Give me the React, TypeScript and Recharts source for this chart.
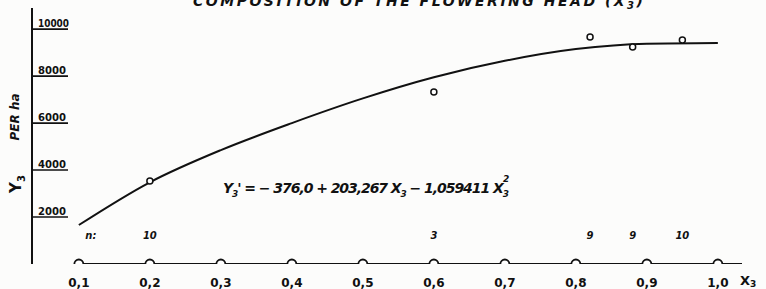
import { ComposedChart, Line, Scatter, XAxis, YAxis, Customized } from 'recharts'

// fitted curve at each tenth
const curveX = [0.1, 0.2, 0.3, 0.4, 0.5, 0.6, 0.7, 0.8, 0.9, 1.0]
const curveY = [1660, 3480, 4850, 6000, 7050, 7950, 8650, 9150, 9380, 9410]

// observed means and their counts (n)
const obsX = [0.2, 0.6, 0.82, 0.88, 0.95]
const obsY = [3530, 7320, 9670, 9240, 9540]
const obsN = ['10', '3', '9', '9', '10']

const xTicks = [0.1, 0.2, 0.3, 0.4, 0.5, 0.6, 0.7, 0.8, 0.9, 1.0]
const yTicks = [2000, 4000, 6000, 8000, 10000]
const xMin = 0.034
const xMax = 1.034
const countLevel = 1230

const curveData = curveX.map((x, i) => ({ x, y: curveY[i] }))
const obsData = obsX.map((x, i) => ({ x, y: obsY[i] }))
const countData = [{ x: 0.117, y: countLevel, n: 'n:' }, ...obsX.map((x, i) => ({ x, y: countLevel, n: obsN[i] }))]
const tickDots = xTicks.map(x => ({ x, y: 0 }))
const baseLine = [{ x: 0.1, y: 0 }, { x: xMax, y: 0 }]

const font = '"DejaVu Sans", sans-serif'

const YTick = (props: any) => {
  const { x, y, payload } = props
  return (
    <g>
      <line x1={x} y1={y} x2={x + 36} y2={y} stroke="#111" strokeWidth={1.6} />
      <text x={x + 6} y={y - 2} fontSize={10} fontWeight="bold" fontFamily={font} fill="#111"
        textLength={payload.value >= 10000 ? 31 : 28} lengthAdjust="spacingAndGlyphs">
        {payload.value}
      </text>
    </g>
  )
}

const Texts = () => (
  <g fontFamily={font} fill="#111" fontWeight="bold" fontStyle="italic">
    <text x={193} y={6} fontSize={14} textLength={450} lengthAdjust="spacing">
      COMPOSITION OF THE FLOWERING HEAD  (X<tspan fontSize={10} dy={3}>3</tspan><tspan dy={-3}>)</tspan>
    </text>
    <text x={223} y={193} fontSize={14} textLength={286} lengthAdjust="spacing">
      Y<tspan fontSize={9} dy={4}>3</tspan><tspan dy={-4}>' = −  376,0 +  203,267 X</tspan>
      <tspan fontSize={9} dy={4}>3</tspan><tspan dy={-4}> − 1,059411  X</tspan>
      <tspan fontSize={9} dy={4}>3</tspan>
    </text>
    <text x={503} y={182} fontSize={9}>2</text>
    <g transform="translate(19,117) rotate(-90)">
      <text x={0} y={0} fontSize={12} textAnchor="middle">PER ha</text>
    </g>
    <g transform="translate(21,184) rotate(-90)">
      <text x={0} y={0} fontSize={15} textAnchor="middle" fontStyle="normal">
        Y<tspan fontSize={10} dy={4}>3</tspan>
      </text>
    </g>
    <text x={740} y={285} fontSize={13} fontStyle="normal">
      X<tspan fontSize={9} dy={2}>3</tspan>
    </text>
  </g>
)

export default function App() {
  return (
    <div style={{ position: 'absolute', left: 0, top: 0, width: 766, height: 289, background: '#fcfcfb' }}>
      <ComposedChart width={766} height={289} margin={{ top: 8, right: 24, bottom: 0, left: 0 }}>
        <XAxis dataKey="x" type="number" domain={[xMin, xMax]} ticks={xTicks} allowDataOverflow
          axisLine={false} tickLine={false} tickSize={0} tickMargin={14} height={25}
          tick={{ fontSize: 12, fontWeight: 'bold', fill: '#111', fontFamily: font }}
          tickFormatter={v => Number(v).toFixed(1).replace('.', ',')} />
        <YAxis type="number" domain={[0, 10900]} ticks={yTicks} allowDataOverflow width={32}
          axisLine={{ stroke: '#111', strokeWidth: 2 }} tickLine={false} tickSize={0} tickMargin={0}
          tick={<YTick />} />
        <Line data={baseLine} dataKey="y" stroke="#111" strokeWidth={2} dot={false} isAnimationActive={false} />
        <Line data={curveData} dataKey="y" type="monotone" stroke="#111" strokeWidth={2} dot={false} isAnimationActive={false} />
        <Scatter data={tickDots} dataKey="y" isAnimationActive={false}
          shape={(p: any) => <circle cx={p.cx} cy={p.cy} r={4.5} fill="#fff" stroke="#111" strokeWidth={1.8} />} />
        <Scatter data={obsData} dataKey="y" isAnimationActive={false}
          shape={(p: any) => <circle cx={p.cx} cy={p.cy} r={3} fill="#fff" stroke="#111" strokeWidth={1.5} />} />
        <Scatter data={countData} dataKey="y" isAnimationActive={false}
          shape={(p: any) => (
            <text x={p.cx} y={p.cy + 4} fontSize={10} fontWeight="bold" fontStyle="italic" fontFamily={font}
              fill="#111" textAnchor="middle">{p.payload.n}</text>
          )} />
        <Customized component={Texts} />
      </ComposedChart>
    </div>
  )
}
